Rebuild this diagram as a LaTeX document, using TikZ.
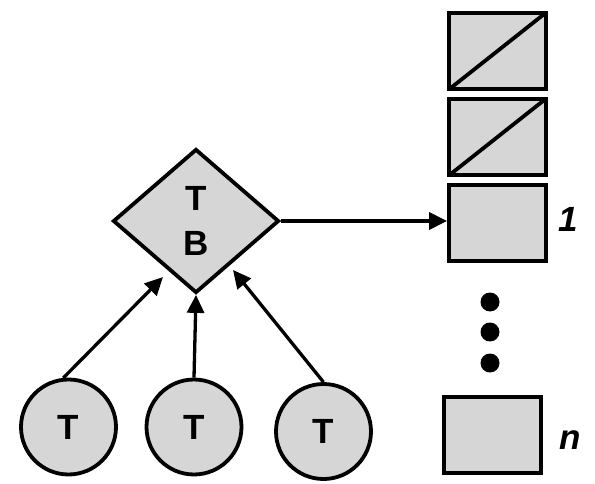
\documentclass[tikz,border=0pt]{standalone}
\usepackage{fontspec}
\setmainfont{Liberation Sans}
\usetikzlibrary{shapes.geometric,arrows.meta}
\definecolor{boxgray}{gray}{0.84}
\begin{document}
\begin{tikzpicture}[x=1pt,y=-1pt,
  shp/.style={draw=black,fill=boxgray,line width=3.8pt,inner sep=0pt},
  lbl/.style={font=\fontsize{35}{45}\selectfont\bfseries},
  ilbl/.style={font=\fontsize{35}{45}\selectfont\bfseries\itshape},
  slot/.style={shp,rectangle,minimum width=97pt,minimum height=76pt},
  tnode/.style={shp,circle,minimum size=95pt,lbl},
  dot/.style={circle,fill=black,inner sep=0pt,minimum size=19pt},
  diag/.style={line width=3.8pt,shorten <=2pt,shorten >=2pt},
  arr/.style={line width=3.3pt,-{Triangle[length=18pt,width=17pt]}}]
\useasboundingbox (0,0) rectangle (595,484);
\node[shp,diamond,minimum width=166pt,minimum height=144pt,lbl,align=center] (d) at (196,221) {T\\B};
\node[tnode] (c1) at (68.5,427) {T};
\node[tnode] (c2) at (194,427) {T};
\node[tnode] (c3) at (323.5,431.5) {T};
\node[slot] (b1) at (497.5,51) {};
\node[slot] (b2) at (497.5,137) {};
\node[slot] (b3) at (497.5,223) {};
\node[slot] (b4) at (492.5,435) {};
\draw[diag] (b1.south west) -- (b1.north east);
\draw[diag] (b2.south west) -- (b2.north east);
\node[ilbl] (l1) at (568,219) {1};
\node[ilbl] (ln) at (570,440) {n};
\node[dot] (dt1) at (490,302) {};
\node[dot] (dt2) at (490,332) {};
\node[dot] (dt3) at (490,363) {};
\coordinate (tipL) at (163,277);
\coordinate (tipR) at (233,270);
\draw[arr] (d.east) -- (d.east -| b3.west);
\draw[arr] (c1.96) -- (tipL);
\draw[arr] (c2.north) -- (d.south);
\draw[arr] (c3.north) -- (tipR);
\end{tikzpicture}
\end{document}
